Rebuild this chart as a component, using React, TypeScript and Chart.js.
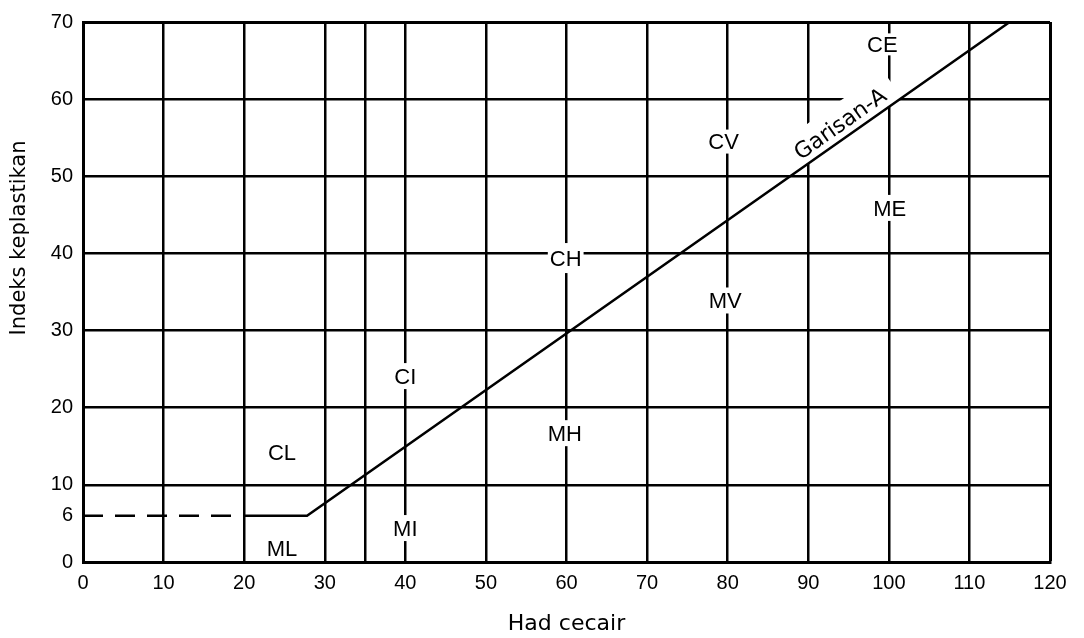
import React, { useEffect, useRef } from 'react';
import { Chart, registerables } from 'chart.js';

Chart.register(...registerables);

// Axis ticks
const xTickValues = [0, 10, 20, 30, 35, 40, 50, 60, 70, 80, 90, 100, 110, 120];
const xTickLabels = ['0', '10', '20', '30', '', '40', '50', '60', '70', '80', '90', '100', '110', '120'];
const yTickValues = [0, 6, 10, 20, 30, 40, 50, 60, 70];
const yTickLabels = ['0', '6', '10', '20', '30', '40', '50', '60', '70'];

// Lines
const dashedLL = [0, 20];
const dashedPI = [6, 6];
const aLineLL = [20, 27.8, 115];
const aLinePI = [6, 6, 70];

// Zone labels
const zoneNames = ['CL', 'ML', 'CI', 'MI', 'CH', 'MH', 'CV', 'MV', 'CE', 'ME'];
const zoneLL = [24.7, 24.7, 40, 40, 59.9, 59.8, 79.5, 79.7, 99.2, 100.1];
const zonePI = [14.2, 1.8, 24.1, 4.4, 39.4, 16.7, 54.5, 33.9, 67.1, 45.9];
const zoneGap = [0, 0, 13, 13, 15, 13, 12, 13, 11, 13];

const aLineLabel = 'Garisan-A';
const aLineLabelLL = 93.9;
const aLineLabelPI = 56.9;

const xTitle = 'Had cecair';
const yTitle = 'Indeks keplastikan';

const FONT = 'DejaVu Sans';
const TICK_FONT = 'Liberation Sans';

const labelPlugin = {
  id: 'zoneLabels',
  beforeDatasetsDraw(chart: any) {
    const ctx = chart.ctx;
    const xs = chart.scales.x;
    const ys = chart.scales.y;
    const size = 22;
    const cap = size * 0.716;
    ctx.save();
    ctx.font = `${size}px "${TICK_FONT}"`;
    ctx.textAlign = 'center';
    ctx.textBaseline = 'alphabetic';
    zoneNames.forEach((name, i) => {
      const px = xs.getPixelForValue(zoneLL[i]);
      const py = ys.getPixelForValue(zonePI[i]);
      const w = ctx.measureText(name).width;
      const g = Math.max(zoneGap[i], cap / 2 + 3);
      ctx.fillStyle = '#fff';
      ctx.fillRect(px - w / 2 - 2, py - g, w + 4, g * 2);
      ctx.fillStyle = '#000';
      ctx.fillText(name, px, py + cap / 2);
    });
    // A-line label
    const p1x = xs.getPixelForValue(aLineLL[1]);
    const p1y = ys.getPixelForValue(aLinePI[1]);
    const p2x = xs.getPixelForValue(aLineLL[2]);
    const p2y = ys.getPixelForValue(aLinePI[2]);
    const ang = Math.atan2(p2y - p1y, p2x - p1x);
    const cx = xs.getPixelForValue(aLineLabelLL);
    const cy = ys.getPixelForValue(aLineLabelPI);
    ctx.translate(cx, cy);
    ctx.rotate(ang);
    ctx.font = `22px "${FONT}"`;
    const capA = 22 * 0.73;
    const w = ctx.measureText(aLineLabel).width;
    ctx.fillStyle = '#fff';
    ctx.fillRect(-w / 2 - 12, -capA / 2 - 10, w + 24, capA + 17);
    ctx.fillStyle = '#000';
    ctx.fillText(aLineLabel, 0, capA / 2);
    ctx.restore();
  },
  afterDraw(chart: any) {
    const ctx = chart.ctx;
    ctx.save();
    ctx.font = `21px "${FONT}"`;
    ctx.fillStyle = '#000';
    ctx.textAlign = 'center';
    ctx.textBaseline = 'middle';
    ctx.translate(20, 238);
    ctx.rotate(-Math.PI / 2);
    ctx.fillText(yTitle, 0, 0);
    ctx.restore();
  },
};

export default function App() {
  const ref = useRef<HTMLCanvasElement>(null);
  useEffect(() => {
    const canvas = ref.current!;
    const chart = new Chart(canvas, {
      type: 'scatter',
      data: {
        datasets: [
          {
            data: dashedLL.map((x, i) => ({ x, y: dashedPI[i] })),
            showLine: true,
            borderColor: '#000',
            borderWidth: 2.5,
            borderDash: [20, 12],
            pointRadius: 0,
          },
          {
            data: aLineLL.map((x, i) => ({ x, y: aLinePI[i] })),
            showLine: true,
            borderColor: '#000',
            borderWidth: 2.5,
            pointRadius: 0,
          },
        ],
      },
      options: {
        animation: false,
        responsive: false,
        devicePixelRatio: 1,
        layout: { padding: { top: 10, right: 34, left: 0, bottom: 0 } },
        font: { family: FONT },
        plugins: { legend: { display: false }, tooltip: { enabled: false } },
        scales: {
          x: {
            type: 'linear',
            min: 0,
            max: 120,
            afterBuildTicks: (s: any) => {
              s.ticks = xTickValues.map((v) => ({ value: v }));
            },
            afterFit: (s: any) => {
              s.height = 76;
            },
            ticks: {
              color: '#000',
              font: { family: TICK_FONT, size: 20 },
              padding: 9,
              maxRotation: 0,
              autoSkip: false,
              callback: (v: any) => xTickLabels[xTickValues.indexOf(Number(v))],
            },
            grid: {
              color: '#000',
              lineWidth: (c: any) => (c.tick && c.tick.value === 120 ? 3 : 2.5),
              drawTicks: false,
            },
            border: { display: true, color: '#000', width: 3 },
            title: {
              display: true,
              text: xTitle,
              color: '#000',
              font: { family: FONT, size: 22 },
              padding: { top: 0, bottom: 1 },
            },
          },
          y: {
            type: 'linear',
            min: 0,
            max: 70,
            afterBuildTicks: (s: any) => {
              s.ticks = yTickValues.map((v) => ({ value: v }));
            },
            afterFit: (s: any) => {
              s.width = 83;
            },
            ticks: {
              color: '#000',
              font: { family: TICK_FONT, size: 20 },
              padding: 10,
              autoSkip: false,
              callback: (v: any) => yTickLabels[yTickValues.indexOf(Number(v))],
            },
            grid: {
              color: (c: any) => (c.tick && c.tick.value === 6 ? 'rgba(0,0,0,0)' : '#000'),
              lineWidth: (c: any) => (c.tick && c.tick.value === 70 ? 3 : 2.5),
              drawTicks: false,
            },
            border: { display: true, color: '#000', width: 3 },
            title: { display: false },
          },
        },
      },
      plugins: [labelPlugin],
    } as any);
    return () => chart.destroy();
  }, []);
  return (
    <div style={{ position: 'fixed', left: 0, top: 0, width: 1084, height: 638, background: '#fff' }}>
      <canvas ref={ref} width={1084} height={638} />
    </div>
  );
}
